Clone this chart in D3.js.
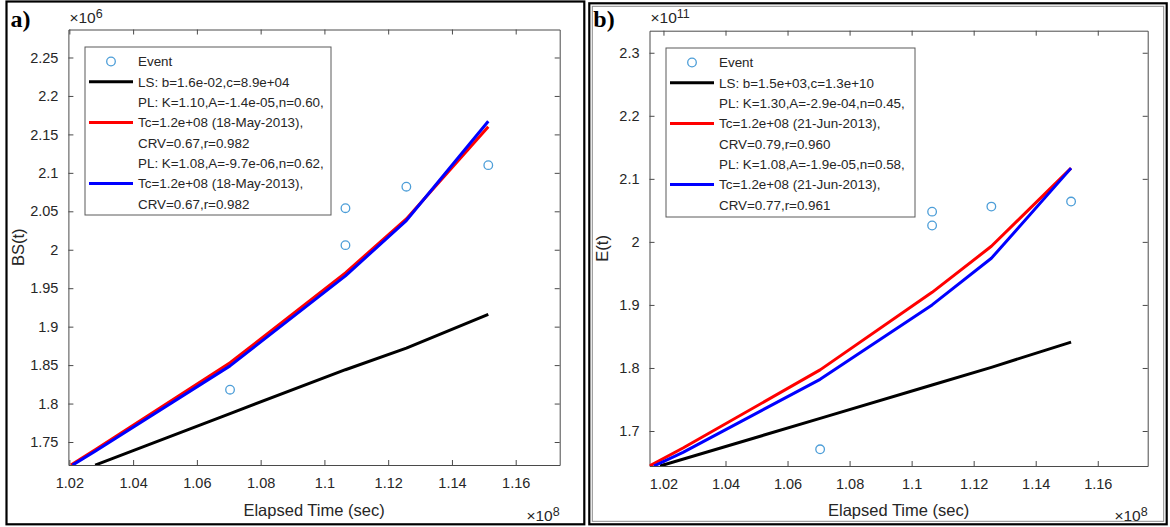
<!DOCTYPE html>
<html>
<head>
<meta charset="utf-8">
<script src="https://cdn.jsdelivr.net/npm/d3@7"></script>
<style>
  html, body { margin: 0; padding: 0; background: #fff; }
  svg { display: block; }
  text { font-family: "Liberation Sans", Arial, sans-serif; fill: #262626; }
</style>
</head>
<body>
<svg id="fig" width="1170" height="527"></svg>
<script>
// ---- shared tick values ----
const xTicks = [1.02, 1.04, 1.06, 1.08, 1.10, 1.12, 1.14, 1.16];
const yTicksA = [1.75, 1.80, 1.85, 1.90, 1.95, 2.00, 2.05, 2.10, 2.15, 2.20, 2.25];
const yTicksB = [1.7, 1.8, 1.9, 2.0, 2.1, 2.2, 2.3];

// ---- panel a: BS(t) ----
const eventTimesA = [1.0704, 1.1066, 1.1066, 1.1257, 1.1514];
const eventValuesA = [1.818, 2.006, 2.054, 2.082, 2.110];
const lsTimesA = [1.0281, 1.0704, 1.1066, 1.1257, 1.1514];
const lsValuesA = [1.720, 1.787, 1.844, 1.872, 1.916];
const pl1TimesA = [1.0205, 1.0281, 1.0704, 1.1066, 1.1257, 1.1514];
const pl1ValuesA = [1.720, 1.740, 1.853, 1.970, 2.040, 2.160];
const pl2TimesA = [1.0210, 1.0281, 1.0704, 1.1066, 1.1257, 1.1514];
const pl2ValuesA = [1.720, 1.738, 1.849, 1.966, 2.038, 2.167];
const legendA = [
  "Event",
  "LS: b=1.6e-02,c=8.9e+04",
  "PL: K=1.10,A=-1.4e-05,n=0.60,",
  "Tc=1.2e+08 (18-May-2013),",
  "CRV=0.67,r=0.982",
  "PL: K=1.08,A=-9.7e-06,n=0.62,",
  "Tc=1.2e+08 (18-May-2013),",
  "CRV=0.67,r=0.982"
];

// ---- panel b: E(t) ----
const eventTimesB = [1.0705, 1.1066, 1.1066, 1.1257, 1.1514];
const eventValuesB = [1.671, 2.026, 2.048, 2.056, 2.064];
const lsTimesB = [1.0189, 1.0705, 1.1066, 1.1257, 1.1514];
const lsValuesB = [1.6445, 1.720, 1.773, 1.801, 1.841];
const pl1TimesB = [1.0155, 1.0263, 1.0705, 1.1066, 1.1257, 1.1514];
const pl1ValuesB = [1.6445, 1.673, 1.797, 1.920, 1.993, 2.117];
const pl2TimesB = [1.0169, 1.0263, 1.0705, 1.1066, 1.1257, 1.1514];
const pl2ValuesB = [1.6445, 1.666, 1.782, 1.900, 1.974, 2.117];
const legendB = [
  "Event",
  "LS: b=1.5e+03,c=1.3e+10",
  "PL: K=1.30,A=-2.9e-04,n=0.45,",
  "Tc=1.2e+08 (21-Jun-2013),",
  "CRV=0.79,r=0.960",
  "PL: K=1.08,A=-1.9e-05,n=0.58,",
  "Tc=1.2e+08 (21-Jun-2013),",
  "CRV=0.77,r=0.961"
];

const zip = (t, v) => t.map((d, i) => [d, v[i]]);

const panels = [
  {
    id: "a", label: "a)", yLabel: "BS(t)", yExp: "6",
    frame: [6.5, 1.5, 584.3, 524.3], double: false,
    box: [68.4, 29.5, 559.7, 465],
    xDomain: [1.0197, 1.1738], yDomain: [1.7201, 2.2864],
    yTicks: yTicksA,
    events: zip(eventTimesA, eventValuesA),
    ls: zip(lsTimesA, lsValuesA),
    pl1: zip(pl1TimesA, pl1ValuesA),
    pl2: zip(pl2TimesA, pl2ValuesA),
    legend: legendA,
    legendBox: [85, 47, 331, 215],
    yLabelX: 18
  },
  {
    id: "b", label: "b)", yLabel: "E(t)", yExp: "11",
    frame: [589.3, 3.3, 1166.7, 524.3], double: true,
    box: [649.5, 30.7, 1147.7, 466],
    xDomain: [1.0155, 1.1761], yDomain: [1.6445, 2.335],
    yTicks: yTicksB,
    events: zip(eventTimesB, eventValuesB),
    ls: zip(lsTimesB, lsValuesB),
    pl1: zip(pl1TimesB, pl1ValuesB),
    pl2: zip(pl2TimesB, pl2ValuesB),
    legend: legendB,
    legendBox: [666, 48, 915, 217],
    yLabelX: 602
  }
];

const svg = d3.select("#fig");
const fmt = d3.format("~g");
const axisColor = "#4a4a4a";
const eventColor = "#4d9ed8";
const tickLen = 5;

panels.forEach(p => {
  const g = svg.append("g");
  const [fx0, fy0, fx1, fy1] = p.frame;

  // panel frame
  g.append("rect")
    .attr("x", fx0).attr("y", fy0)
    .attr("width", fx1 - fx0).attr("height", fy1 - fy0)
    .attr("fill", "none").attr("stroke", "#000").attr("stroke-width", 2.2);
  if (p.double) {
    g.append("rect")
      .attr("x", fx0 + 3).attr("y", fy0 + 3)
      .attr("width", fx1 - fx0 - 6).attr("height", fy1 - fy0 - 6)
      .attr("fill", "none").attr("stroke", "#8a8a8a").attr("stroke-width", 1);
  }

  // panel letter
  g.append("text")
    .attr("x", fx0 + 4).attr("y", 27)
    .style("font-family", "'Liberation Serif', 'Times New Roman', serif")
    .style("font-weight", "bold").style("font-size", "24px")
    .style("fill", "#000")
    .text(p.label);

  const [x0, y0, x1, y1] = p.box;
  const x = d3.scaleLinear().domain(p.xDomain).range([x0, x1]);
  const y = d3.scaleLinear().domain(p.yDomain).range([y1, y0]);

  // axes: bottom/left with labels, top/right ticks only (box on, ticks inward)
  const axB = g.append("g").attr("transform", `translate(0,${y1})`)
    .call(d3.axisBottom(x).tickValues(xTicks).tickFormat(fmt).tickSizeInner(-tickLen).tickSizeOuter(0).tickPadding(13));
  const axT = g.append("g").attr("transform", `translate(0,${y0})`)
    .call(d3.axisTop(x).tickValues(xTicks).tickFormat("").tickSizeInner(-tickLen).tickSizeOuter(0));
  const axL = g.append("g").attr("transform", `translate(${x0},0)`)
    .call(d3.axisLeft(y).tickValues(p.yTicks).tickFormat(fmt).tickSizeInner(-tickLen).tickSizeOuter(0).tickPadding(10));
  const axR = g.append("g").attr("transform", `translate(${x1},0)`)
    .call(d3.axisRight(y).tickValues(p.yTicks).tickFormat("").tickSizeInner(-tickLen).tickSizeOuter(0));
  [axB, axT, axL, axR].forEach(a => {
    a.select(".domain").attr("stroke", axisColor);
    a.selectAll(".tick line").attr("stroke", axisColor);
    a.selectAll(".tick text")
      .style("font-family", "'Liberation Sans', Arial, sans-serif")
      .style("font-size", "14.5px").attr("fill", "#262626");
  });
  axB.selectAll(".tick text").attr("dy", "0.71em");

  // clipping to the plot box
  const clipId = "clip-" + p.id;
  g.append("clipPath").attr("id", clipId)
    .append("rect").attr("x", x0).attr("y", y0).attr("width", x1 - x0).attr("height", y1 - y0);
  const plot = g.append("g").attr("clip-path", `url(#${clipId})`);

  // observed events
  plot.selectAll("circle.ev").data(p.events).join("circle")
    .attr("class", "ev")
    .attr("cx", d => x(d[0])).attr("cy", d => y(d[1])).attr("r", 4.3)
    .attr("fill", "none").attr("stroke", eventColor).attr("stroke-width", 1.3);

  // fitted curves
  const line = d3.line().x(d => x(d[0])).y(d => y(d[1]));
  [[p.ls, "#000"], [p.pl1, "#ff0000"], [p.pl2, "#0000ff"]].forEach(([data, col]) => {
    plot.append("path").datum(data).attr("d", line)
      .attr("fill", "none").attr("stroke", col).attr("stroke-width", 3)
      .attr("stroke-linejoin", "round").attr("stroke-linecap", "butt");
  });

  // axis titles
  g.append("text")
    .attr("x", (x0 + x1) / 2).attr("y", 516)
    .attr("text-anchor", "middle").style("font-size", "16.5px")
    .text("Elapsed Time (sec)");
  g.append("text")
    .attr("transform", `translate(${p.yLabelX},${(y0 + y1) / 2}) rotate(-90)`)
    .attr("text-anchor", "middle").attr("dy", "0.35em").style("font-size", "16.5px")
    .text(p.yLabel);

  // exponent annotations
  const ey = g.append("text").attr("x", x0 + 1).attr("y", 23).style("font-size", "15.5px");
  ey.append("tspan").text("\u00d710");
  ey.append("tspan").attr("dy", -5).style("font-size", "12.5px").text(p.yExp);
  const ex = g.append("text").attr("x", x1).attr("y", 521).attr("text-anchor", "end").style("font-size", "15.5px");
  ex.append("tspan").text("\u00d710");
  ex.append("tspan").attr("dy", -5).style("font-size", "12.5px").text("8");

  // legend
  const [lx0, ly0, lx1, ly1] = p.legendBox;
  const lg = g.append("g");
  lg.append("rect")
    .attr("x", lx0).attr("y", ly0).attr("width", lx1 - lx0).attr("height", ly1 - ly0)
    .attr("fill", "#fff").attr("stroke", "#5a5a5a").attr("stroke-width", 1);
  const rowY = i => ly0 + 14.5 + i * 20.35;
  const sampleX0 = lx0 + 4, sampleX1 = lx0 + 48, textX = lx0 + 53;
  p.legend.forEach((s, i) => {
    lg.append("text").attr("x", textX).attr("y", rowY(i)).attr("dy", "0.35em")
      .style("font-size", "13.4px").text(s);
  });
  lg.append("circle").attr("cx", (sampleX0 + sampleX1) / 2).attr("cy", rowY(0)).attr("r", 4.3)
    .attr("fill", "none").attr("stroke", eventColor).attr("stroke-width", 1.3);
  [[1, "#000"], [3, "#ff0000"], [6, "#0000ff"]].forEach(([i, col]) => {
    lg.append("line").attr("x1", sampleX0).attr("x2", sampleX1)
      .attr("y1", rowY(i)).attr("y2", rowY(i))
      .attr("stroke", col).attr("stroke-width", 3);
  });
});
</script>
</body>
</html>
